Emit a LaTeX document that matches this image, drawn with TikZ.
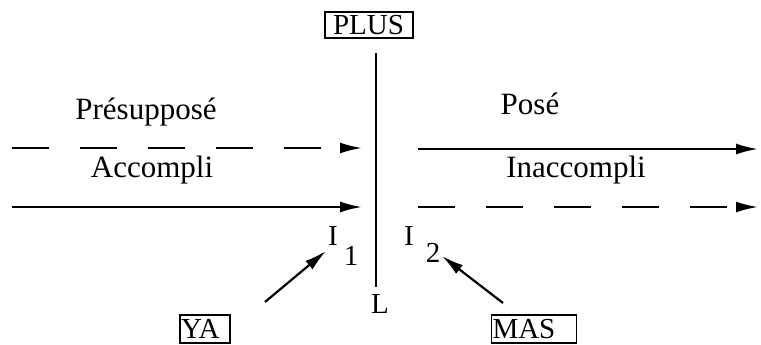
\documentclass[tikz,border=0pt]{standalone}
\usepackage{fontspec}
\setmainfont{Liberation Serif}
\usetikzlibrary{arrows.meta}
\begin{document}
\begin{tikzpicture}[x=1pt,y=-1pt,line width=2.2pt,
  lbl/.style={font=\fontsize{31}{34}\selectfont, inner sep=0pt, anchor=center},
  sml/.style={font=\fontsize{29}{32}\selectfont, inner sep=0pt, anchor=center},
  boxed/.style={draw, line width=1.6pt, font=\fontsize{29}{32}\selectfont, inner sep=0pt, minimum height=26pt},
  arr/.style={-{Latex[length=22pt,width=11pt]}},
  dsh/.style={dash pattern=on 37pt off 31pt}]
\useasboundingbox (0,0) rectangle (761,345);
% top box and vertical line
\node[boxed, minimum width=88pt, text width=84pt, align=left] (plus) at (369,25) {\hspace*{6pt}PLUS};
\coordinate (vtop) at (376,53);
\coordinate (vbot) at (376,287);
\draw (vtop) -- (vbot);
\node[sml] (L) at (380,304) {L};
% left side labels
\node[lbl] (pres) at (146,112) {Présupposé};
\node[lbl] (acc) at (152,170) {Accompli};
% right side labels
\node[lbl] (pose) at (530,104) {Posé};
\node[lbl] (inacc) at (576,170) {Inaccompli};
% lines
\coordinate (la1) at (12,148);
\coordinate (la2) at (362,148);
\coordinate (lb1) at (12,207);
\coordinate (lb2) at (362,207);
\coordinate (ra1) at (418,149);
\coordinate (ra2) at (758,149);
\coordinate (rb1) at (418,207);
\coordinate (rb2) at (758,207);
\draw[arr,dsh] (la1) -- (la2);
\draw[arr] (lb1) -- (lb2);
\draw[arr] (ra1) -- (ra2);
\draw[arr,dsh] (rb1) -- (rb2);
% I labels
\node[sml] (i1) at (333,236) {I};
\node[sml] (s1) at (351,256) {1};
\node[sml] (i2) at (409,236) {I};
\node[sml] (s2) at (433,253) {2};
% bottom boxes
\node[boxed, minimum width=50pt, minimum height=28pt, text width=48pt, align=left] (ya) at (205,329) {YA};
\node[boxed, minimum width=85pt, minimum height=28pt, text width=83pt, align=left] (mas) at (534,329) {MAS};
\coordinate (yaA) at (265,302);
\coordinate (i1tip) at (326,251);
\coordinate (masA) at (503,303);
\coordinate (i2tip) at (442,256);
\draw[arr] (yaA) -- (i1tip);
\draw[arr] (masA) -- (i2tip);
\end{tikzpicture}
\end{document}
